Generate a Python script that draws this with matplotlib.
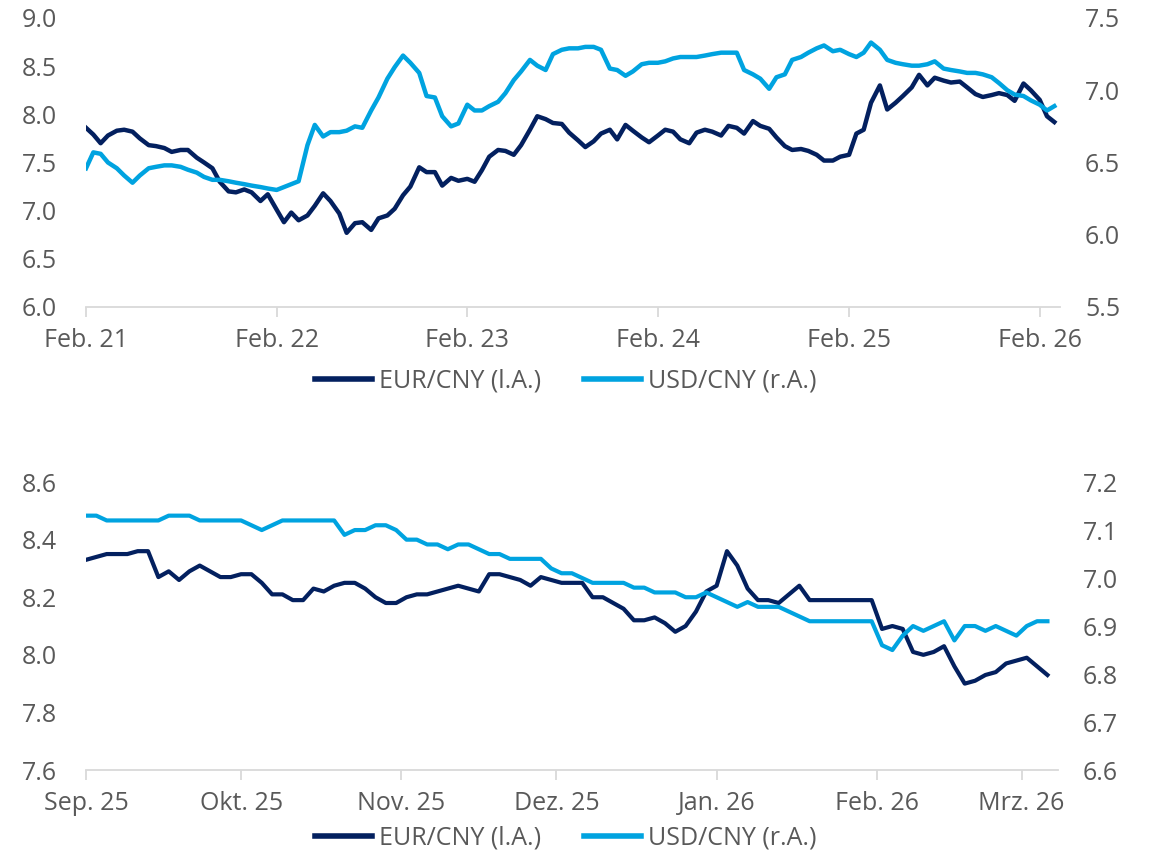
import matplotlib
matplotlib.use("Agg")
import matplotlib.pyplot as plt
import matplotlib.dates as mdates
from matplotlib.ticker import FuncFormatter, MultipleLocator
import pandas as pd

# EUR/CNY and USD/CNY, semi-monthly, Feb 2021 - Mar 2026
eur_5y = [
    7.86, 7.79, 7.70, 7.78, 7.83, 7.84, 7.82, 7.75, 7.68, 7.67,
    7.65, 7.61, 7.63, 7.63, 7.55, 7.50, 7.44, 7.30, 7.20, 7.19,
    7.22, 7.19, 7.10, 7.17, 7.01, 6.88, 6.98, 6.90, 6.95, 7.05,
    7.18, 7.10, 6.97, 6.77, 6.87, 6.88, 6.80, 6.92, 6.95, 7.02,
    7.16, 7.25, 7.45, 7.40, 7.40, 7.26, 7.34, 7.31, 7.33, 7.30,
    7.42, 7.56, 7.63, 7.62, 7.58, 7.68, 7.84, 7.98, 7.95, 7.91,
    7.90, 7.81, 7.73, 7.66, 7.72, 7.80, 7.84, 7.74, 7.89, 7.83,
    7.76, 7.71, 7.78, 7.84, 7.82, 7.74, 7.70, 7.81, 7.84, 7.82,
    7.78, 7.88, 7.86, 7.80, 7.93, 7.88, 7.85, 7.76, 7.67, 7.63,
    7.64, 7.62, 7.58, 7.52, 7.52, 7.56, 7.58, 7.80, 7.84, 8.12,
    8.30, 8.05, 8.12, 8.19, 8.28, 8.41, 8.30, 8.38, 8.35, 8.33,
    8.34, 8.28, 8.21, 8.18, 8.20, 8.22, 8.20, 8.14, 8.32, 8.25,
    8.15, 7.98, 7.92,
]
usd_5y = [
    6.46, 6.57, 6.56, 6.50, 6.46, 6.41, 6.36, 6.41, 6.46, 6.47,
    6.48, 6.48, 6.47, 6.45, 6.43, 6.40, 6.38, 6.38, 6.37, 6.36,
    6.35, 6.34, 6.33, 6.32, 6.31, 6.33, 6.35, 6.37, 6.62, 6.76,
    6.68, 6.71, 6.71, 6.72, 6.75, 6.74, 6.86, 6.95, 7.08, 7.16,
    7.24, 7.19, 7.12, 6.96, 6.95, 6.82, 6.75, 6.77, 6.90, 6.86,
    6.86, 6.89, 6.92, 6.98, 7.07, 7.13, 7.21, 7.17, 7.14, 7.25,
    7.28, 7.29, 7.29, 7.30, 7.30, 7.28, 7.15, 7.14, 7.10, 7.13,
    7.18, 7.19, 7.19, 7.20, 7.22, 7.23, 7.23, 7.23, 7.24, 7.25,
    7.26, 7.26, 7.26, 7.14, 7.11, 7.08, 7.01, 7.09, 7.11, 7.21,
    7.23, 7.26, 7.29, 7.31, 7.27, 7.28, 7.25, 7.23, 7.26, 7.33,
    7.28, 7.21, 7.19, 7.18, 7.17, 7.17, 7.18, 7.20, 7.15, 7.14,
    7.13, 7.12, 7.12, 7.11, 7.09, 7.05, 7.00, 6.97, 6.96, 6.93,
    6.90, 6.86, 6.89,
]

# every second day, Sep 2025 - Mar 2026
eur_6m = [
    8.33, 8.34, 8.35, 8.35, 8.35, 8.36, 8.36, 8.27, 8.29, 8.26,
    8.29, 8.31, 8.29, 8.27, 8.27, 8.28, 8.28, 8.25, 8.21, 8.21,
    8.19, 8.19, 8.23, 8.22, 8.24, 8.25, 8.25, 8.23, 8.20, 8.18,
    8.18, 8.20, 8.21, 8.21, 8.22, 8.23, 8.24, 8.23, 8.22, 8.28,
    8.28, 8.27, 8.26, 8.24, 8.27, 8.26, 8.25, 8.25, 8.25, 8.20,
    8.20, 8.18, 8.16, 8.12, 8.12, 8.13, 8.11, 8.08, 8.10, 8.15,
    8.22, 8.24, 8.36, 8.31, 8.23, 8.19, 8.19, 8.18, 8.21, 8.24,
    8.19, 8.19, 8.19, 8.19, 8.19, 8.19, 8.19, 8.09, 8.10, 8.09,
    8.01, 8.00, 8.01, 8.03, 7.96, 7.90, 7.91, 7.93, 7.94, 7.97,
    7.98, 7.99, 7.96, 7.93,
]
usd_6m = [
    7.13, 7.13, 7.12, 7.12, 7.12, 7.12, 7.12, 7.12, 7.13, 7.13,
    7.13, 7.12, 7.12, 7.12, 7.12, 7.12, 7.11, 7.10, 7.11, 7.12,
    7.12, 7.12, 7.12, 7.12, 7.12, 7.09, 7.10, 7.10, 7.11, 7.11,
    7.10, 7.08, 7.08, 7.07, 7.07, 7.06, 7.07, 7.07, 7.06, 7.05,
    7.05, 7.04, 7.04, 7.04, 7.04, 7.02, 7.01, 7.01, 7.00, 6.99,
    6.99, 6.99, 6.99, 6.98, 6.98, 6.97, 6.97, 6.97, 6.96, 6.96,
    6.97, 6.96, 6.95, 6.94, 6.95, 6.94, 6.94, 6.94, 6.93, 6.92,
    6.91, 6.91, 6.91, 6.91, 6.91, 6.91, 6.91, 6.86, 6.85, 6.88,
    6.90, 6.89, 6.90, 6.91, 6.87, 6.90, 6.90, 6.89, 6.90, 6.89,
    6.88, 6.90, 6.91, 6.91,
]

month_names_de = ["Jan.", "Feb.", "Mrz.", "Apr.", "Mai", "Jun.",
                  "Jul.", "Aug.", "Sep.", "Okt.", "Nov.", "Dez."]
labels = ["EUR/CNY (l.A.)", "USD/CNY (r.A.)"]

DARK = "#03205f"
LIGHT = "#00a3e0"
GREY_TXT = "#595959"
GREY_AX = "#d9d9d9"
FS = 18

plt.rcParams["font.family"] = ["Open Sans", "DejaVu Sans"]

dates_5y = pd.date_range("2021-02-01", periods=len(eur_5y), freq="SMS")
dates_6m = pd.date_range("2025-09-01", periods=len(eur_6m), freq="2D")


def de_month(x, pos):
    d = mdates.num2date(x)
    return f"{month_names_de[d.month - 1]} {d.year % 100:02d}"


def style_axes(ax, ax2):
    for s in ["top", "left", "right"]:
        ax.spines[s].set_visible(False)
    ax.spines["bottom"].set_color(GREY_AX)
    ax.spines["bottom"].set_linewidth(1.3)
    for s in ax2.spines.values():
        s.set_visible(False)
    ax.tick_params(axis="y", length=0, pad=21, labelsize=FS, labelcolor=GREY_TXT)
    ax2.tick_params(axis="y", length=0, pad=18, labelsize=FS, labelcolor=GREY_TXT)
    ax.tick_params(axis="x", length=7, width=1.3, color=GREY_AX, pad=8,
                   labelsize=FS, labelcolor=GREY_TXT)
    ax.yaxis.set_major_formatter(FuncFormatter(lambda v, p: f"{v:.1f}"))
    ax2.yaxis.set_major_formatter(FuncFormatter(lambda v, p: f"{v:.1f}"))


def add_legend(fig, handles, y):
    lg = fig.legend(handles, labels, loc="center", bbox_to_anchor=(0.492, y), ncol=2,
                    frameon=False, fontsize=FS, labelcolor=GREY_TXT, handlelength=2.3,
                    handletextpad=0.28, columnspacing=1.7, borderpad=0)
    for h in lg.legend_handles:
        h.set_linewidth(4.0)


fig = plt.figure(figsize=(11.5, 8.57), dpi=100)

# five-year panel
ax = fig.add_axes([0.0748, 0.6418, 0.847, 0.3372])
ax2 = ax.twinx()
l1, = ax.plot(dates_5y, eur_5y, color=DARK, lw=3.2, solid_joinstyle="round")
l2, = ax2.plot(dates_5y, usd_5y, color=LIGHT, lw=3.2, solid_joinstyle="round")
ax.set_ylim(6.0, 9.0)
ax2.set_ylim(5.5, 7.5)
ax.yaxis.set_major_locator(MultipleLocator(0.5))
ax2.yaxis.set_major_locator(MultipleLocator(0.5))
ax.set_xlim(pd.Timestamp("2021-02-01"), pd.Timestamp("2026-03-12"))
ax.xaxis.set_major_locator(mdates.YearLocator(month=2, day=1))
ax.xaxis.set_major_formatter(FuncFormatter(de_month))
style_axes(ax, ax2)
add_legend(fig, [l1, l2], 0.555)

# six-month panel
bx = fig.add_axes([0.0748, 0.1015, 0.845, 0.336])
bx2 = bx.twinx()
m1, = bx.plot(dates_6m, eur_6m, color=DARK, lw=3.0, solid_joinstyle="round")
m2, = bx2.plot(dates_6m, usd_6m, color=LIGHT, lw=3.0, solid_joinstyle="round")
bx.set_ylim(7.6, 8.6)
bx2.set_ylim(6.6, 7.2)
bx.yaxis.set_major_locator(MultipleLocator(0.2))
bx2.yaxis.set_major_locator(MultipleLocator(0.1))
bx.set_xlim(pd.Timestamp("2025-09-01"), pd.Timestamp("2026-03-08"))
bx.xaxis.set_major_locator(mdates.MonthLocator())
bx.xaxis.set_major_formatter(FuncFormatter(de_month))
style_axes(bx, bx2)
add_legend(fig, [m1, m2], 0.022)

fig.savefig("out.png", dpi=100)
